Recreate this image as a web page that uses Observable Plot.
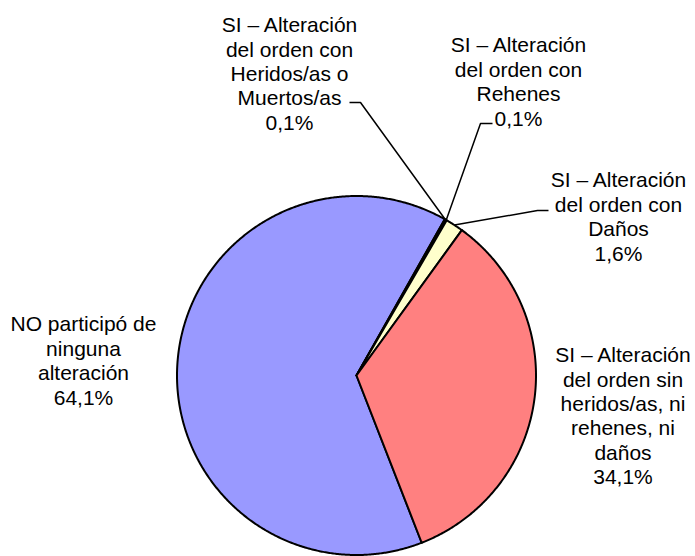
<!DOCTYPE html>
<html>
<head>
<meta charset="utf-8">
<script src="https://cdn.jsdelivr.net/npm/d3@7"></script>
<script src="https://cdn.jsdelivr.net/npm/@observablehq/plot@0.6"></script>
<style>
  html, body { margin: 0; padding: 0; background: #ffffff; }
  #chart { width: 695px; height: 556px; }
</style>
</head>
<body>
<div id="chart"></div>
<script>
// ---- Data ----
const categories = [
  "NO participó de ninguna alteración",
  "SI – Alteración del orden con Heridos/as o Muertos/as",
  "SI – Alteración del orden con Rehenes",
  "SI – Alteración del orden con Daños",
  "SI – Alteración del orden sin heridos/as, ni rehenes, ni daños"
];
const labelText = [
  "NO participó de\nninguna\nalteración",
  "SI – Alteración\ndel orden con\nHeridos/as o\nMuertos/as",
  "SI – Alteración\ndel orden con\nRehenes",
  "SI – Alteración\ndel orden con\nDaños",
  "SI – Alteración\ndel orden sin\nheridos/as, ni\nrehenes, ni\ndaños"
];
const values = [64.1, 0.1, 0.1, 1.6, 34.1];

// ---- Styles / layout (not data) ----
const colors = ["#9999FF", "#993366", "#660066", "#FFFFCC", "#FF8080"];
const startDeg = 158.7; // clockwise from 12 o'clock
// label block centres and leader elbows, in units of the pie radius
const labelPos = [
  {x: -1.521, y: 0.085},
  {x: -0.373, y: 1.684},
  {x: 0.9025, y: 1.640},
  {x: 1.4596, y: 0.888},
  {x: 1.4847, y: -0.222}
];
const leaderPath = [
  null,
  [{x: 0.0223, y: 1.521}, {x: -0.039, y: 1.521}],
  [{x: 0.6908, y: 1.404}, {x: 0.7577, y: 1.404}],
  [{x: 1.0084, y: 0.9192}, {x: 1.0696, y: 0.9192}],
  null
];

// ---- Build geometry from data ----
const rad = startDeg * Math.PI / 180;
const arcs = d3.pie().sort(null).startAngle(rad).endAngle(rad + 2 * Math.PI)(values);

const slicePts = [];
arcs.forEach((a, i) => {
  const cat = categories[i];
  slicePts.push({cat, x: 0, y: 0});
  const n = Math.max(2, Math.ceil((a.endAngle - a.startAngle) / (0.4 * Math.PI / 180)));
  for (let k = 0; k <= n; k++) {
    const t = a.startAngle + (a.endAngle - a.startAngle) * k / n;
    slicePts.push({cat, x: Math.sin(t), y: Math.cos(t)});
  }
});

const leaderPts = [];
arcs.forEach((a, i) => {
  if (!leaderPath[i]) return;
  const m = (a.startAngle + a.endAngle) / 2;
  leaderPts.push({cat: categories[i], x: Math.sin(m), y: Math.cos(m)});
  leaderPath[i].forEach(p => leaderPts.push({cat: categories[i], x: p.x, y: p.y}));
});

const fmt = v => d3.format(".1f")(v).replace(".", ",") + "%";
const labels = categories.map((c, i) => ({
  cat: c,
  x: labelPos[i].x,
  y: labelPos[i].y,
  text: labelText[i] + "\n" + fmt(values[i])
}));

const chart = Plot.plot({
  width: 695,
  height: 556,
  marginLeft: 176.5,
  marginRight: 159.5,
  marginTop: 195.5,
  marginBottom: 1.5,
  style: {fontFamily: "'Liberation Sans', Arial, sans-serif", background: "#ffffff", color: "#000000"},
  x: {domain: [-1, 1], axis: null},
  y: {domain: [-1, 1], axis: null},
  color: {domain: categories, range: colors},
  marks: [
    Plot.line(slicePts, {x: "x", y: "y", z: "cat", fill: "cat", stroke: "#000000", strokeWidth: 2, curve: "linear-closed"}),
    Plot.line(leaderPts, {x: "x", y: "y", z: "cat", stroke: "#000000", strokeWidth: 1.5, strokeLinecap: "butt"}),
    Plot.text(labels, {x: "x", y: "y", text: "text", fontSize: 21, lineHeight: 1.162, lineAnchor: "middle", textAnchor: "middle", fill: "#000000"})
  ]
});
document.getElementById("chart").appendChild(chart);
</script>
</body>
</html>
